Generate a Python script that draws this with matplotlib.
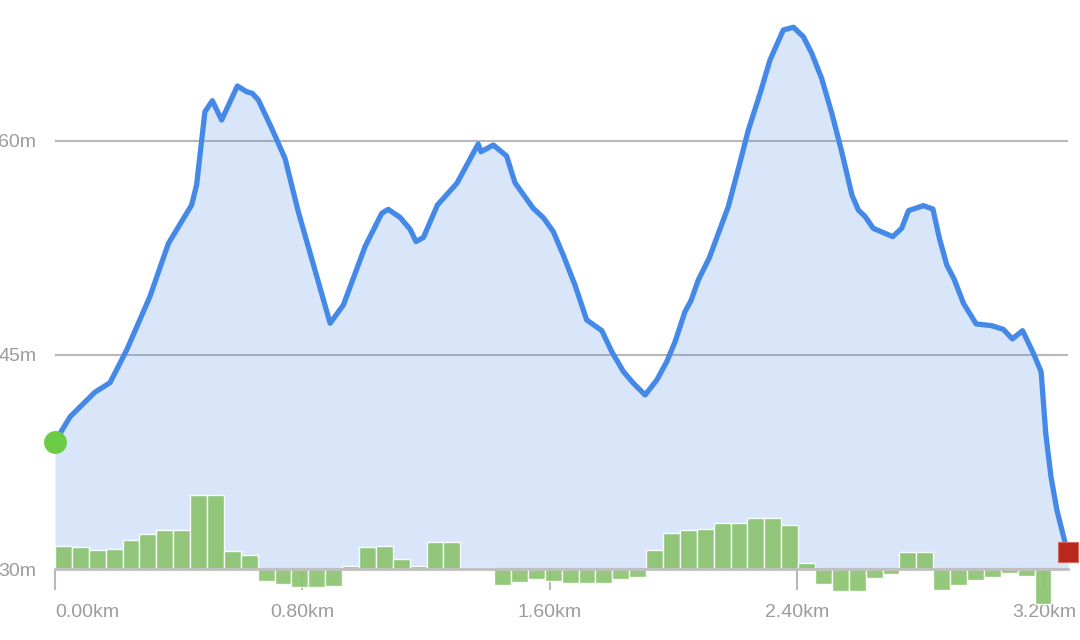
import matplotlib
matplotlib.use("Agg")
import matplotlib.pyplot as plt
import numpy as np

plt.rcParams['font.family'] = ['Liberation Sans', 'DejaVu Sans']

# Elevation profile (distance km, elevation m)
dist_km = [0.000, 0.049, 0.129, 0.178, 0.232, 0.307, 0.367, 0.442, 0.458, 0.485,
           0.509, 0.539, 0.590, 0.620, 0.638, 0.658, 0.701, 0.744, 0.787, 0.890,
           0.933, 1.003, 1.057, 1.078, 1.116, 1.149, 1.168, 1.192, 1.237, 1.300,
           1.369, 1.378, 1.418, 1.461, 1.488, 1.547, 1.580, 1.612, 1.644, 1.682,
           1.720, 1.769, 1.801, 1.839, 1.871, 1.909, 1.947, 1.979, 2.006, 2.038,
           2.057, 2.081, 2.117, 2.146, 2.178, 2.211, 2.243, 2.281, 2.313, 2.356,
           2.389, 2.421, 2.448, 2.480, 2.513, 2.545, 2.578, 2.599, 2.621, 2.647,
           2.710, 2.739, 2.761, 2.809, 2.840, 2.861, 2.885, 2.909, 2.939, 2.980,
           3.030, 3.068, 3.097, 3.130, 3.165, 3.190, 3.205, 3.222, 3.241, 3.268,
           3.278]
elev_m = [38.93, 40.68, 42.39, 43.06, 45.35, 49.08, 52.81, 55.49, 56.89, 62.02,
          62.79, 61.44, 63.82, 63.42, 63.31, 62.84, 60.86, 58.76, 55.03, 47.22,
          48.50, 52.58, 54.91, 55.19, 54.63, 53.79, 52.93, 53.23, 55.49, 57.01,
          59.76, 59.22, 59.69, 58.92, 57.05, 55.26, 54.60, 53.63, 52.00, 49.90,
          47.45, 46.70, 45.23, 43.83, 43.02, 42.20, 43.25, 44.53, 45.93, 48.03,
          48.78, 50.24, 51.81, 53.51, 55.37, 58.06, 60.74, 63.31, 65.64, 67.74,
          67.93, 67.27, 66.11, 64.36, 61.91, 59.22, 56.19, 55.14, 54.68, 53.86,
          53.28, 53.86, 55.10, 55.45, 55.21, 53.16, 51.29, 50.29, 48.61, 47.17,
          47.05, 46.79, 46.12, 46.70, 45.12, 43.83, 39.52, 36.48, 34.15, 31.82,
          31.23]

# Grade per segment (%)
grade_pct = [2.3, 2.2, 1.9, 2.0, 2.9, 3.5, 3.9, 3.9, 7.4, 7.4, 1.8, 1.4,
             -1.2, -1.5, -1.8, -1.8, -1.7, 0.3, 2.2, 2.3, 1.0, 0.3, 2.7, 2.7,
             0.1, 0.1, -1.6, -1.3, -1.0, -1.2, -1.4, -1.4, -1.4, -1.0, -0.8,
             1.9, 3.6, 3.9, 4.0, 4.6, 4.6, 5.1, 5.1, 4.4, 0.6, -1.5, -2.2, -2.2,
             -0.9, -0.5, 1.7, 1.7, -2.1, -1.6, -1.1, -0.8, -0.4, -0.7, -3.5]

x_ticks = [0.0, 0.8, 1.6, 2.4, 3.2]
x_labels = ['0.00km', '0.80km', '1.60km', '2.40km', '3.20km']
y_ticks = [30, 45, 60]
y_labels = ['30m', '45m', '60m']

BASE = 30.0
GRADE_TO_M = 0.70
N_SEG = 60

fig = plt.figure(figsize=(10.8, 6.4), dpi=100)
ax = fig.add_axes([55/1080, 70.7/640, 1013.3/1080, 569.3/640])
total = dist_km[-1]
ax.set_xlim(0, total)
ax.set_ylim(BASE, BASE + 569.3/14.29)

for s in ax.spines.values():
    s.set_visible(False)

ax.set_yticks(y_ticks)
ax.set_yticklabels(y_labels)
ax.set_xticks(x_ticks)
ax.set_xticklabels(x_labels)
ax.tick_params(axis='y', length=0, pad=13.5, labelsize=14, labelcolor='#9c9c9c')
ax.tick_params(axis='x', length=15, width=1.5, color='#b8b8b8', pad=10,
               labelsize=14, labelcolor='#9c9c9c', direction='out')
ax.get_xticklabels()[0].set_horizontalalignment('left')
ax.yaxis.grid(True, color='#b8b8b8', linewidth=1.5, zorder=0)
ax.set_axisbelow(True)

# Area fill
ax.fill_between(dist_km, BASE, elev_m, color='#4285e6', alpha=0.2, linewidth=0, zorder=1)

# Grade bars
seg_w = total / N_SEG
bx = [i * seg_w for i in range(len(grade_pct))]
bh = [g * GRADE_TO_M for g in grade_pct]
ax.bar(bx, bh, width=seg_w, bottom=BASE, align='edge', color='#8bc46f',
       alpha=0.92, edgecolor=(1, 1, 1, 0.35), linewidth=1.0, zorder=3, clip_on=False)

# Baseline
ax.axhline(BASE, color='#c0c0c0', linewidth=2, zorder=4, clip_on=False)

# Elevation line
ax.plot(dist_km, elev_m, color='#4589e8', linewidth=3.8, solid_joinstyle='round',
        solid_capstyle='round', zorder=5, clip_on=False)

# Start and end markers
ax.plot([dist_km[0]], [elev_m[0]], marker='o', markersize=16.5, color='#6ccc48',
        markeredgewidth=0, zorder=6, clip_on=False)
ax.plot([dist_km[-1]], [elev_m[-1]], marker='s', markersize=14, color='#b9281b',
        markeredgecolor='#d46a60', markeredgewidth=0.8, zorder=6, clip_on=False)

fig.savefig('out.png', dpi=100, facecolor='white')
